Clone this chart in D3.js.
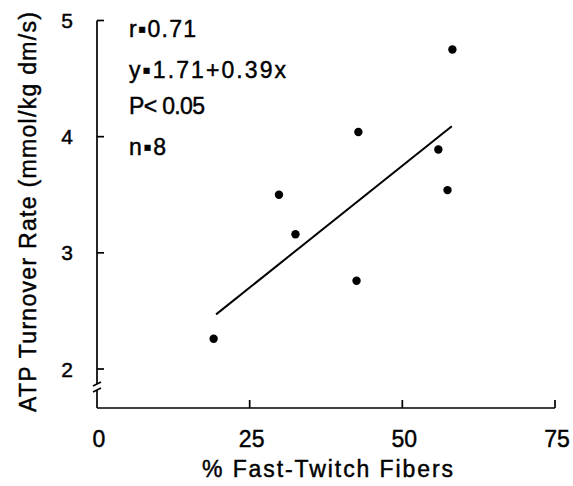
<!DOCTYPE html>
<html>
<head>
<meta charset="utf-8">
<script src="https://cdn.jsdelivr.net/npm/d3@7"></script>
<style>
  body { margin: 0; background: #fff; }
  text { font-family: "Liberation Sans", Arial, Helvetica, sans-serif; fill: #000; stroke: #000; stroke-width: 0.45; }
</style>
</head>
<body>
<div id="chart"></div>
<script>
// fiber type vs ATP turnover, 8 subjects
var fastTwitch = [19.1, 29.8, 32.5, 42.8, 42.5, 55.9, 57.4, 58.2],
    atpRate = [2.26, 3.50, 3.16, 4.04, 2.76, 3.89, 3.54, 4.75];

// regression line ends, as drawn
var fitX = [19.5, 58.1],
    fitY = [2.47, 4.09];

var xTicks = [0, 25, 50, 75],
    yTicks = [2, 3, 4, 5];

var notes = ["r\u25aa0.71", "y\u25aa1.71+0.39x", "P< 0.05", "n\u25aa8"];

var width = 573, height = 486;

var svg = d3.select("#chart").append("svg")
    .attr("width", width)
    .attr("height", height);

var x = d3.scaleLinear().domain([0, 75]).range([97, 555]);
var y = d3.scaleLinear().domain([2, 5]).range([369, 20.5]);
var axisY = 408; // x axis sits a bit below the 2 tick (broken axis)

var ink = svg.append("g").attr("stroke", "#000").attr("fill", "none").attr("stroke-width", 1.7);

// x axis line and upward ticks
ink.append("line")
    .attr("x1", x(0)).attr("x2", x(75))
    .attr("y1", axisY).attr("y2", axisY);
ink.selectAll(".xt")
    .data(xTicks.slice(1))
    .enter().append("line")
    .attr("class", "xt")
    .attr("x1", d => x(d)).attr("x2", d => x(d))
    .attr("y1", axisY).attr("y2", axisY - 8);

// y axis with break near the bottom
ink.append("line")
    .attr("x1", x(0)).attr("x2", x(0))
    .attr("y1", y(5)).attr("y2", 384);
ink.append("line")
    .attr("x1", x(0)).attr("x2", x(0))
    .attr("y1", 390).attr("y2", axisY);
ink.selectAll(".brk")
    .data([384, 390])
    .enter().append("line")
    .attr("class", "brk")
    .attr("x1", x(0) - 4).attr("x2", x(0) + 4)
    .attr("y1", d => d + 2).attr("y2", d => d - 2);
ink.selectAll(".yt")
    .data(yTicks)
    .enter().append("line")
    .attr("class", "yt")
    .attr("x1", x(0)).attr("x2", x(0) + 7)
    .attr("y1", d => y(d)).attr("y2", d => y(d));

// tick labels
svg.selectAll(".xl")
    .data(xTicks)
    .enter().append("text")
    .attr("class", "xl")
    .attr("x", d => x(d) + 2)
    .attr("y", 447)
    .attr("text-anchor", "middle")
    .attr("font-size", 23)
    .text(d => d);
svg.selectAll(".yl")
    .data(yTicks)
    .enter().append("text")
    .attr("class", "yl")
    .attr("x", 67)
    .attr("y", d => y(d) + 7.5)
    .attr("text-anchor", "middle")
    .attr("font-size", 21)
    .text(d => d);

// axis titles
svg.append("text")
    .attr("x", 202)
    .attr("y", 477)
    .attr("font-size", 23)
    .attr("textLength", 251)
    .attr("lengthAdjust", "spacing")
    .text("% Fast-Twitch Fibers");
svg.append("text")
    .attr("transform", "translate(36,412) rotate(-90)")
    .attr("font-size", 23)
    .attr("textLength", 400)
    .attr("lengthAdjust", "spacing")
    .text("ATP Turnover Rate (mmol/kg dm/s)");

// regression line
ink.append("line")
    .attr("stroke-width", 2)
    .attr("x1", x(fitX[0])).attr("y1", y(fitY[0]))
    .attr("x2", x(fitX[1])).attr("y2", y(fitY[1]));

// points
svg.selectAll(".dot")
    .data(fastTwitch)
    .enter().append("circle")
    .attr("class", "dot")
    .attr("cx", d => x(d))
    .attr("cy", (d, i) => y(atpRate[i]))
    .attr("r", 4.2)
    .attr("fill", "#000");

// stats block
var noteY = [37, 78, 114, 155],
    noteW = [67, 157, 76, 37];
svg.selectAll(".note")
    .data(notes)
    .enter().append("text")
    .attr("class", "note")
    .attr("x", 129)
    .attr("y", (d, i) => noteY[i])
    .attr("font-size", 23)
    .attr("textLength", (d, i) => noteW[i])
    .attr("lengthAdjust", "spacing")
    .text(d => d);
</script>
</body>
</html>
